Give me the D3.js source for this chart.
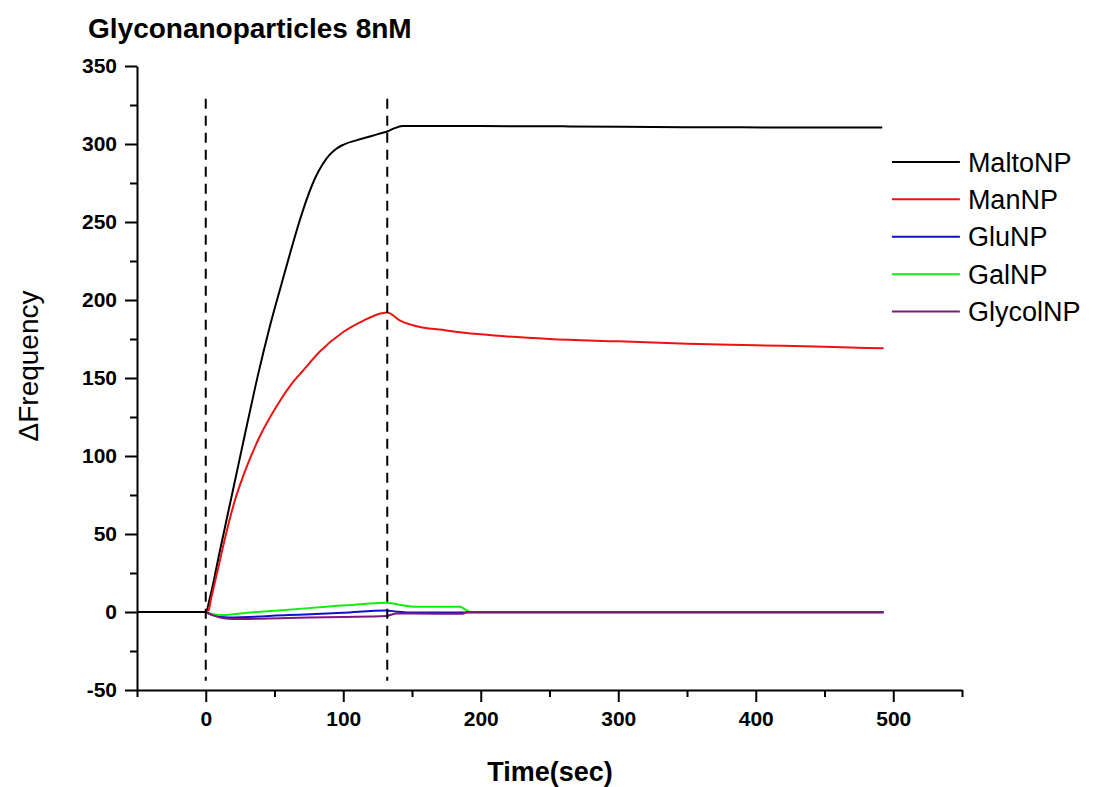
<!DOCTYPE html>
<html>
<head>
<meta charset="utf-8">
<script src="https://cdn.jsdelivr.net/npm/d3@7"></script>
<style>
    body { margin: 0; background: #fff; }
    text { font-family: Arial, "Liberation Sans", sans-serif; }
</style>
</head>
<body>
<div id="chart"></div>
<script>
// series values (time in sec, delta frequency)
var maltoTime = [-50, 0, 3, 10, 20, 30, 38, 46, 55, 62, 68, 74, 80, 85, 90, 95, 100, 110, 120, 128, 132, 137, 143, 200, 260, 352, 420, 492];
var maltoVal = [0, 0, 9, 38, 79, 120, 152, 181, 210, 232, 250, 266, 279, 287, 293, 297, 299.5, 302.5, 305, 307, 308, 310, 311.5, 311.5, 311.3, 310.8, 310.6, 310.5];

var manTime = [0, 2, 4, 9, 15, 21, 28, 39, 53, 64, 70, 83, 100, 114, 128, 132, 141, 150, 175, 200, 250, 300, 350, 400, 450, 493];
var manVal = [0, 1, 9, 28, 51, 71, 89, 112, 134, 148, 154, 167, 179.5, 186.5, 191.5, 192, 187, 184, 180.5, 178, 175, 173.5, 172, 171, 170, 169];

var gluTime = [0, 5, 17, 60, 100, 131, 139, 148, 493];
var gluVal = [0, -2, -3.5, -2, -0.5, 1, 0.2, -0.3, -0.3];

var galTime = [0, 5, 12, 30, 60, 90, 115, 131, 139, 151, 170, 185, 189, 192, 493];
var galVal = [0, -1.5, -2, -0.5, 1.5, 3.5, 5.2, 6, 5, 3.4, 3.3, 3.3, 1.5, 0, 0];

var glycolTime = [0, 5, 13, 20, 60, 100, 131, 139, 150, 187, 190, 493];
var glycolVal = [0, -2, -4, -4.5, -3.8, -3.2, -2.6, -1, -1, -1.2, 0, 0];

var seriesNames = ["MaltoNP", "ManNP", "GluNP", "GalNP", "GlycolNP"];
var seriesColors = ["#000000", "#ee1111", "#1111cc", "#11ee11", "#7a1a7a"];

// dashed markers (injection start / end)
var markerTimes = [0, 132];

var xTicks = [0, 100, 200, 300, 400, 500];
var yTicks = [-50, 0, 50, 100, 150, 200, 250, 300, 350];

// build series
var allTimes = [maltoTime, manTime, gluTime, galTime, glycolTime];
var allVals = [maltoVal, manVal, gluVal, galVal, glycolVal];
var series = seriesNames.map(function(name, i) {
    return {
        name: name,
        color: seriesColors[i],
        points: allTimes[i].map(function(t, j) { return { t: t, v: allVals[i][j] }; })
    };
});

// canvas
var svgWidth = 1093;
var svgHeight = 787;
var margin = { top: 66, right: 131, bottom: 97, left: 137 };
var chart_width = svgWidth - margin.left - margin.right;
var chart_height = svgHeight - margin.top - margin.bottom;

var svg = d3.select("#chart")
    .append("svg")
    .attr("width", svgWidth)
    .attr("height", svgHeight);

var chart = svg.append("g")
    .attr("transform", `translate(${margin.left}, ${margin.top})`);

// scales
var xScale = d3.scaleLinear().domain([-50, 550]).range([0, chart_width]);
var yScale = d3.scaleLinear().domain([-50, 350]).range([chart_height, 0]);

// minor ticks
var xMinor = d3.range(-50, 551, 50).filter(d => xTicks.indexOf(d) < 0);
var yMinor = d3.range(-25, 351, 50);

chart.append("g")
    .attr("transform", `translate(0, ${chart_height})`)
    .call(d3.axisBottom(xScale).tickValues(xMinor).tickSize(7).tickFormat(""))
    .call(g => g.select(".domain").remove())
    .selectAll("line").attr("stroke-width", 2);

chart.append("g")
    .call(d3.axisLeft(yScale).tickValues(yMinor).tickSize(7).tickFormat(""))
    .call(g => g.select(".domain").remove())
    .selectAll("line").attr("stroke-width", 2);

// main axes
var xAxis = chart.append("g")
    .attr("transform", `translate(0, ${chart_height})`)
    .call(d3.axisBottom(xScale).tickValues(xTicks).tickSize(12).tickSizeOuter(0).tickPadding(9)
        .tickFormat(d => String(d)));

var yAxis = chart.append("g")
    .call(d3.axisLeft(yScale).tickValues(yTicks).tickSize(12).tickSizeOuter(0).tickPadding(8)
        .tickFormat(d => String(d)));

[xAxis, yAxis].forEach(function(ax) {
    ax.select(".domain").attr("stroke-width", 2);
    ax.selectAll(".tick line").attr("stroke-width", 2);
    ax.selectAll("text")
        .attr("font-family", "Arial, 'Liberation Sans', sans-serif")
        .attr("font-size", 21)
        .attr("font-weight", "bold")
        .attr("fill", "#000");
});

// curves
var line = d3.line()
    .x(d => xScale(d.t))
    .y(d => yScale(d.v))
    .curve(d3.curveMonotoneX);

chart.append("g")
    .selectAll("path")
    .data(series)
    .enter()
    .append("path")
    .attr("d", d => line(d.points))
    .attr("fill", "none")
    .attr("stroke", d => d.color)
    .attr("stroke-width", 2);

// dashed vertical lines
chart.append("g")
    .selectAll("line")
    .data(markerTimes)
    .enter()
    .append("line")
    .attr("x1", d => xScale(d))
    .attr("x2", d => xScale(d))
    .attr("y1", yScale(329))
    .attr("y2", yScale(-44))
    .attr("stroke", "#000")
    .attr("stroke-width", 2)
    .attr("stroke-dasharray", "10,7");

// legend
var legend = chart.append("g")
    .attr("transform", `translate(${xScale(499)}, ${yScale(288.5)})`);

var legendItem = legend.selectAll("g")
    .data(series)
    .enter()
    .append("g")
    .attr("transform", (d, i) => `translate(0, ${i * 37.4})`);

legendItem.append("line")
    .attr("x1", 0)
    .attr("x2", 68)
    .attr("stroke", d => d.color)
    .attr("stroke-width", 2);

legendItem.append("text")
    .attr("x", 76)
    .attr("dy", "0.36em")
    .attr("font-size", 27)
    .text(d => d.name);

// titles
svg.append("text")
    .attr("x", 88)
    .attr("y", 38)
    .attr("font-size", 28)
    .attr("font-weight", "bold")
    .text("Glyconanoparticles 8nM");

svg.append("text")
    .attr("x", 550)
    .attr("y", 781)
    .attr("text-anchor", "middle")
    .attr("font-size", 27)
    .attr("font-weight", "bold")
    .text("Time(sec)");

svg.append("text")
    .attr("transform", "translate(38, 366) rotate(-90)")
    .attr("text-anchor", "middle")
    .attr("font-size", 28)
    .text("\u0394Frequency");
</script>
</body>
</html>
